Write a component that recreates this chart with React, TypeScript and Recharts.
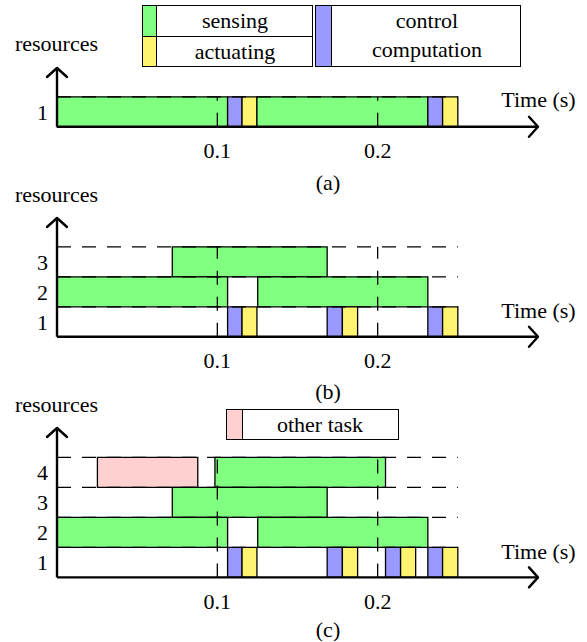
import { ComposedChart, XAxis, YAxis, ReferenceArea, ReferenceLine } from "recharts";

type Kind = "sensing" | "control" | "actuating" | "other";

const colors: Record<Kind, string> = {
  sensing: "#80ff80",
  control: "#9999ff",
  actuating: "#fff36f",
  other: "#ffd0d0",
};

// [row, kind, start, end] in seconds
const tasksA: [number, Kind, number, number][] = [
  [1, "sensing", 0, 0.1064],
  [1, "control", 0.1064, 0.1154],
  [1, "actuating", 0.1154, 0.1247],
  [1, "sensing", 0.1247, 0.2313],
  [1, "control", 0.2313, 0.2405],
  [1, "actuating", 0.2405, 0.25],
];

const tasksB: [number, Kind, number, number][] = [
  [3, "sensing", 0.0719, 0.1685],
  [2, "sensing", 0, 0.1064],
  [2, "sensing", 0.1252, 0.2313],
  [1, "control", 0.1064, 0.1154],
  [1, "actuating", 0.1154, 0.1247],
  [1, "control", 0.1685, 0.178],
  [1, "actuating", 0.178, 0.1875],
  [1, "control", 0.2313, 0.2405],
  [1, "actuating", 0.2405, 0.25],
];

const tasksC: [number, Kind, number, number][] = [
  [4, "other", 0.0252, 0.0878],
  [4, "sensing", 0.0985, 0.2049],
  [3, "sensing", 0.0719, 0.1685],
  [2, "sensing", 0, 0.1064],
  [2, "sensing", 0.1252, 0.2313],
  [1, "control", 0.1064, 0.1154],
  [1, "actuating", 0.1154, 0.1247],
  [1, "control", 0.1685, 0.178],
  [1, "actuating", 0.178, 0.1875],
  [1, "control", 0.2049, 0.2143],
  [1, "actuating", 0.2143, 0.2237],
  [1, "control", 0.2313, 0.2405],
  [1, "actuating", 0.2405, 0.25],
];

const rowsA = [1];
const rowsB = [1, 2, 3];
const rowsC = [1, 2, 3, 4];
const timeTicks = [0.1, 0.2];
const dashEnd = 0.25;

const font = "'Liberation Serif', 'Times New Roman', serif";
const ROW_H = 30;

function Panel({ tasks, rows, baseline, id }: { tasks: [number, Kind, number, number][]; rows: number[]; baseline: number; id: string }) {
  const n = rows.length;
  const yMax = n + (n === 4 ? 0.98 : 0.96);
  const plotH = ROW_H * yMax;
  const topPad = 14;
  const plotTop = baseline - plotH;
  const data = tasks.map(([row, , s]) => ({ t: s, r: row - 0.5 }));
  return (
    <div style={{ position: "absolute", left: 0, top: plotTop - topPad }}>
      <ComposedChart
        width={587}
        height={topPad + plotH + 40}
        data={data}
        margin={{ top: topPad, right: 49, bottom: 0, left: 0 }}
      >
        <defs>
          <marker id={id} markerUnits="userSpaceOnUse" markerWidth={26} markerHeight={26} refX={13} refY={13} orient="auto-start-reverse">
            <path d="M4,3 L13,13 L4,23" fill="none" stroke="#000" strokeWidth={2.4} strokeLinecap="round" strokeLinejoin="round" />
          </marker>
        </defs>
        <XAxis
          type="number"
          dataKey="t"
          domain={[0, 0.3]}
          allowDataOverflow
          ticks={timeTicks}
          interval={0}
          tickLine={false}
          tickSize={6}
          tickMargin={10}
          height={40}
          axisLine={{ stroke: "#000", strokeWidth: 2.4, markerEnd: `url(#${id})` }}
          tick={{ fill: "#000", fontSize: 22, fontFamily: font }}
        />
        <YAxis
          type="number"
          dataKey="r"
          domain={[0, yMax]}
          allowDataOverflow
          ticks={rows.map((r) => r - 0.5)}
          interval={0}
          tickFormatter={(v: number) => String(v + 0.5)}
          tickLine={false}
          tickSize={6}
          tickMargin={3}
          width={57}
          axisLine={{ stroke: "#000", strokeWidth: 2.4, markerStart: `url(#${id})` }}
          tick={{ fill: "#000", fontSize: 22, fontFamily: font }}
        />
        {rows.map((r) => (
          <ReferenceLine
            key={"h" + r}
            segment={[{ x: 0, y: r }, { x: dashEnd, y: r }]}
            stroke="#000"
            strokeWidth={1.3}
            strokeDasharray="14 11"
            ifOverflow="visible"
          />
        ))}
        {tasks.map(([row, kind, s, e], i) => (
          <ReferenceArea
            key={"t" + i}
            x1={s}
            x2={e}
            y1={row - 1}
            y2={row}
            fill={colors[kind]}
            fillOpacity={1}
            stroke="#000"
            strokeWidth={1.3}
            ifOverflow="visible"
          />
        ))}
        {timeTicks.map((t) => (
          <ReferenceLine
            key={"v" + t}
            segment={[{ x: t, y: 0 }, { x: t, y: n }]}
            stroke="#000"
            strokeWidth={1.3}
            strokeDasharray="14 12"
            ifOverflow="visible"
          />
        ))}
      </ComposedChart>
    </div>
  );
}

function Box({ x, y, w, h, fill = "#fff" }: { x: number; y: number; w: number; h: number; fill?: string }) {
  return (
    <div
      style={{
        position: "absolute",
        left: x - 0.65,
        top: y - 0.65,
        width: w + 1.3,
        height: h + 1.3,
        boxSizing: "border-box",
        border: "1.3px solid #000",
        background: fill,
      }}
    />
  );
}

function Txt({ x, y, children }: { x: number; y: number; children: string }) {
  return (
    <div
      style={{
        position: "absolute",
        left: x,
        top: y,
        transform: "translate(-50%, -50%)",
        fontFamily: font,
        fontSize: 22,
        lineHeight: 1,
        whiteSpace: "nowrap",
        color: "#000",
      }}
    >
      {children}
    </div>
  );
}

export default function App() {
  return (
    <div style={{ position: "absolute", left: 0, top: 0, width: 587, height: 642, background: "#fff", overflow: "hidden" }}>
      {/* legends */}
      <Box x={142.7} y={5.7} w={170} h={31} />
      <Box x={142.7} y={36.7} w={170} h={30} />
      <Box x={142.7} y={5.7} w={14} h={31} fill={colors.sensing} />
      <Box x={142.7} y={36.7} w={14} h={30} fill={colors.actuating} />
      <Txt x={235} y={21}>sensing</Txt>
      <Txt x={235} y={52}>actuating</Txt>
      <Box x={316} y={5.7} w={204.7} h={61} />
      <Box x={316} y={5.7} w={15.7} h={61} fill={colors.control} />
      <Txt x={427} y={21}>control</Txt>
      <Txt x={427} y={50}>computation</Txt>

      <Box x={226.7} y={409.3} w={171.6} h={30} />
      <Box x={226.7} y={409.3} w={15.6} h={30} fill={colors.other} />
      <Txt x={320} y={425}>other task</Txt>

      <Panel tasks={tasksA} rows={rowsA} baseline={126.7} id="arrA" />
      <Panel tasks={tasksB} rows={rowsB} baseline={336.7} id="arrB" />
      <Panel tasks={tasksC} rows={rowsC} baseline={577.7} id="arrC" />

      <Txt x={56.5} y={44}>resources</Txt>
      <Txt x={56.5} y={195}>resources</Txt>
      <Txt x={56.5} y={405}>resources</Txt>

      <Txt x={538.5} y={100}>Time (s)</Txt>
      <Txt x={538.5} y={311}>Time (s)</Txt>
      <Txt x={538.5} y={552}>Time (s)</Txt>

      <Txt x={328} y={183}>(a)</Txt>
      <Txt x={328} y={392}>(b)</Txt>
      <Txt x={328} y={630}>(c)</Txt>
    </div>
  );
}
